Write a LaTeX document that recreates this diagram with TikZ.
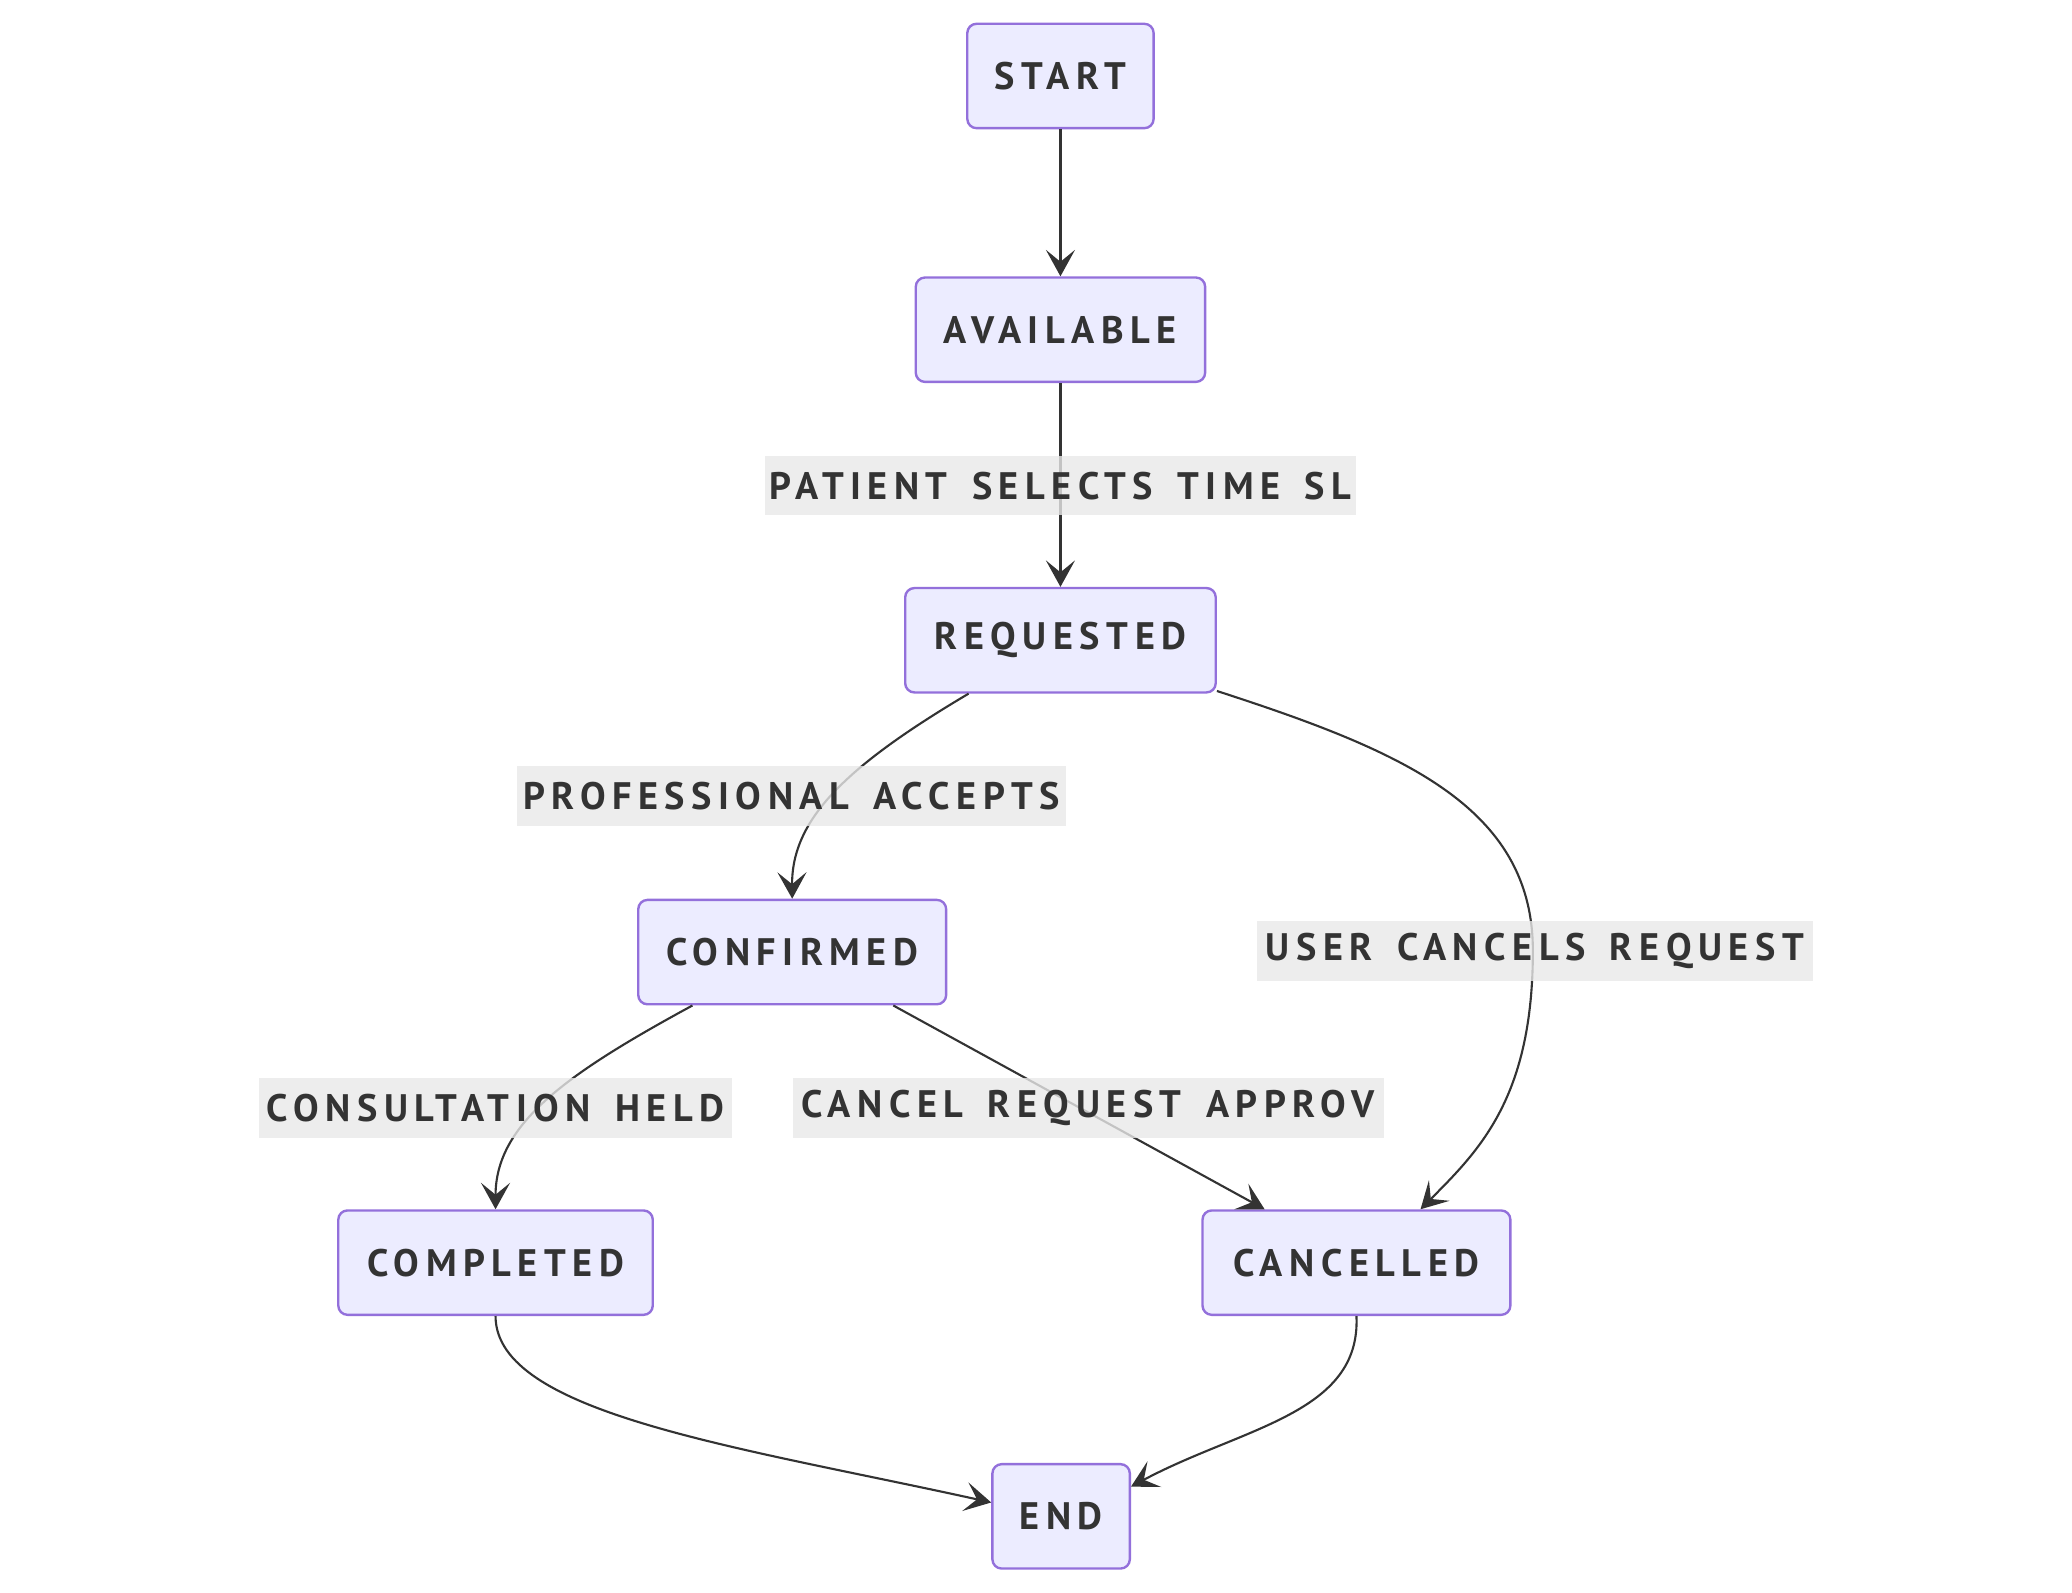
\documentclass[tikz,border=0pt]{standalone}
\usepackage{fontspec}
\newfontfamily\statefont[LetterSpace=17, WordSpace=1.5]{PT Sans Bold}
\usetikzlibrary{arrows.meta}

\definecolor{statefill}{HTML}{ECECFF}
\definecolor{stateline}{HTML}{9370DB}
\definecolor{edgeink}{HTML}{333333}
\definecolor{labelfill}{HTML}{E8E8E8}

\begin{document}
\begin{tikzpicture}[x=1pt, y=-1pt,
		state/.style={draw=stateline, fill=statefill, line width=1.8pt, rounded corners=7pt,
			minimum height=79pt, inner sep=0pt, text=edgeink, font=\statefont\fontsize{29}{34}\selectfont},
		edgelabel/.style={fill=labelfill, fill opacity=0.8, text opacity=1, inner sep=0pt,
			minimum height=45pt, text=edgeink, font=\statefont\fontsize{29}{34}\selectfont},
		trans/.style={draw=edgeink, line width=1.6pt, -{Stealth[length=20pt, width=22pt, inset=9pt]}}]
		\useasboundingbox (0, 0) rectangle (1568, 1205);

		% states
		\node[state, minimum width=141pt] (start) at (802.5, 57.5) {START};
		\node[state, minimum width=219pt] (avail) at (802.5, 249.5) {AVAILABLE};
		\node[state, minimum width=235pt] (req) at (802.5, 484.5) {REQUESTED};
		\node[state, minimum width=233pt] (conf) at (599.5, 720.5) {CONFIRMED};
		\node[state, minimum width=238pt] (compl) at (375, 955.5) {COMPLETED};
		\node[state, minimum width=233pt] (canc) at (1026.5, 955.5) {CANCELLED};
		\node[state, minimum width=104pt] (end) at (803, 1147.5) {END};

		% transitions
		\draw[trans] (start) -- (avail);
		\draw[trans] (avail) -- (req);
		\draw[trans] ([xshift=-69.5pt]req.south)
			.. controls (640, 580) and (599, 620) .. (conf.north);
		\draw[trans] ([yshift=2pt]req.south east)
			.. controls (1060, 568) and (1160, 610) .. (1160, 719.5)
			.. controls (1160, 830) and (1120, 870) .. ([xshift=48.5pt]canc.north);
		\draw[trans] ([xshift=-75.5pt]conf.south)
			.. controls (430, 812) and (375, 850) .. (compl.north);
		\draw[trans] ([xshift=76.5pt]conf.south) -- ([xshift=-69.5pt]canc.north);
		\draw[trans] (compl.south)
			.. controls (375, 1070) and (560, 1095) .. ([yshift=10.5pt]end.west);
		\draw[trans] (canc.south)
			.. controls (1030, 1070) and (940, 1080) .. ([yshift=22.5pt]end.east);

		% labels
		\node[edgelabel, minimum width=447pt] (lselect) at (802.5, 367.5) {PATIENT SELECTS TIME SL};
		\node[edgelabel, minimum width=416pt] (laccept) at (599, 602.5) {PROFESSIONAL ACCEPTS};
		\node[edgelabel, minimum width=421pt] (lusercancel) at (1161.5, 719.5) {USER CANCELS REQUEST};
		\node[edgelabel, minimum width=358pt] (lheld) at (375, 838.5) {CONSULTATION HELD};
		\node[edgelabel, minimum width=447pt] (lapprove) at (823.5, 838.5) {CANCEL REQUEST APPROV};

	\end{tikzpicture}
\end{document}
